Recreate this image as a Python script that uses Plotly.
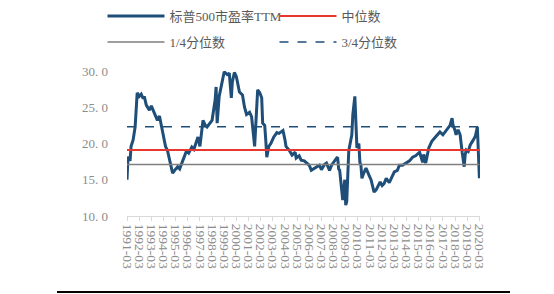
import plotly.graph_objects as go

# S&P 500 trailing PE (TTM)
dates = [
    "1991-03", "1991-04", "1991-06", "1991-07", "1991-09", "1991-11", "1992-01", "1992-03",
    "1992-05", "1992-07", "1992-08", "1992-10", "1993-01", "1993-03", "1993-06", "1993-09",
    "1993-11", "1994-01", "1994-03", "1994-05", "1994-07", "1994-09", "1994-11", "1994-12",
    "1995-02", "1995-05", "1995-07", "1995-09", "1995-11", "1996-02", "1996-04", "1996-07",
    "1996-09", "1997-01", "1997-03", "1997-06", "1997-08", "1997-10", "1998-03", "1998-06",
    "1998-07", "1998-08", "1998-10", "1999-01", "1999-03", "1999-06", "1999-08", "1999-10",
    "1999-11", "2000-01", "2000-03", "2000-06", "2000-09", "2000-11", "2001-01", "2001-04",
    "2001-06", "2001-09", "2001-10", "2001-12", "2002-02", "2002-04", "2002-05", "2002-07",
    "2002-08", "2002-09", "2002-11", "2003-01", "2003-04", "2003-07", "2003-09", "2004-01",
    "2004-03", "2004-04", "2004-07", "2004-10", "2005-01", "2005-02", "2005-05", "2005-07",
    "2005-10", "2006-01", "2006-03", "2006-05", "2006-08", "2006-10", "2007-01", "2007-03",
    "2007-06", "2007-08", "2007-11", "2008-01", "2008-04", "2008-06", "2008-07", "2008-08",
    "2008-09", "2008-11", "2008-12", "2009-02", "2009-03", "2009-04", "2009-05", "2009-06",
    "2009-09", "2009-10", "2009-12", "2010-01", "2010-02", "2010-04", "2010-05", "2010-06",
    "2010-07", "2010-09", "2010-11", "2011-02", "2011-04", "2011-07", "2011-09", "2012-01",
    "2012-03", "2012-05", "2012-07", "2012-10", "2012-12", "2013-03", "2013-06", "2013-08",
    "2013-11", "2014-03", "2014-06", "2014-09", "2014-12", "2015-04", "2015-07", "2015-08",
    "2015-10", "2016-01", "2016-02", "2016-04", "2016-07", "2016-09", "2016-12", "2017-03",
    "2017-05", "2017-08", "2017-10", "2017-12", "2018-01", "2018-03", "2018-04", "2018-06",
    "2018-08", "2018-10", "2018-12", "2019-01", "2019-02", "2019-04", "2019-06", "2019-09",
    "2019-11", "2020-01", "2020-03",
]
pe_ttm = [
    15.0, 18.2, 17.6, 19.6, 20.5, 22.3, 27.0, 26.5,
    26.8, 26.2, 26.5, 25.3, 24.6, 25.2, 24.2, 23.2,
    23.8, 22.3, 21.0, 19.6, 19.0, 17.7, 16.8, 15.9,
    16.3, 16.8, 16.5, 17.3, 17.8, 19.1, 18.7, 19.5,
    19.2, 20.9, 19.6, 23.2, 22.6, 22.3, 23.2, 26.0,
    27.8, 22.8, 26.5, 28.8, 29.9, 29.5, 29.7, 26.3,
    28.5, 29.8, 29.2, 27.1, 26.7, 25.0, 24.0, 24.3,
    23.7, 19.6, 23.0, 27.4, 27.0, 26.3, 22.8, 22.5,
    20.5, 18.1, 19.6, 20.0, 20.9, 21.5, 21.4, 21.8,
    20.5, 19.6, 19.1, 18.4, 18.8, 18.0, 18.3, 17.7,
    17.6, 17.3, 17.0, 16.3, 16.6, 16.8, 17.0, 16.4,
    17.1, 17.3, 16.3, 17.0, 17.7, 18.0, 18.1, 16.5,
    16.3, 13.5, 12.2, 15.0, 11.5, 12.0, 17.0, 19.0,
    21.2, 24.0, 26.5, 23.5, 19.4, 20.0, 17.4, 17.0,
    15.2, 16.0, 16.6, 15.6, 15.0, 13.3, 13.6, 14.7,
    14.2, 14.5, 15.2, 14.6, 15.3, 16.1, 16.3, 17.0,
    17.0, 17.4, 17.6, 18.1, 18.3, 18.8, 17.4, 18.5,
    17.3, 19.4, 19.8, 20.3, 20.8, 21.1, 21.6, 21.2,
    21.6, 22.1, 22.5, 23.5, 22.5, 21.8, 21.2, 21.9,
    21.2, 18.8, 16.8, 18.5, 19.1, 18.9, 19.8, 20.5,
    21.0, 22.3, 15.2,
]
median_pe = 19.1
q1_pe = 17.1
q3_pe = 22.3

tick_years = list(range(1991, 2021))
tick_vals = [f"{y}-03-01" for y in tick_years]
tick_text = [f"{y}-03" for y in tick_years]
y_vals = [10, 15, 20, 25, 30]
y_text = ["10. 0", "15. 0", "20. 0", "25. 0", "30. 0"]

names = ["标普500市盈率TTM", "中位数", "1/4分位数", "3/4分位数"]

FONT = "Liberation Serif, Noto Sans CJK SC, serif"
x_span = [dates[0], dates[-1]]

fig = go.Figure()
fig.add_trace(go.Scatter(x=dates, y=pe_ttm, mode="lines", name=names[0],
                         line=dict(color="#1F4E79", width=3), legend="legend"))
fig.add_trace(go.Scatter(x=x_span, y=[median_pe, median_pe], mode="lines", name=names[1],
                         line=dict(color="#E8372F", width=2), legend="legend"))
fig.add_trace(go.Scatter(x=x_span, y=[q1_pe, q1_pe], mode="lines", name=names[2],
                         line=dict(color="#7F7F7F", width=1.5), legend="legend2"))
fig.add_trace(go.Scatter(x=x_span, y=[q3_pe, q3_pe], mode="lines", name=names[3],
                         line=dict(color="#1F4E79", width=1.5, dash="dash"), legend="legend2"))

legend_common = dict(orientation="h", xref="container", yref="container",
                     xanchor="left", yanchor="middle", entrywidthmode="pixels",
                     entrywidth=100, itemwidth=57,
                     font=dict(family=FONT, size=13, color="#595959"),
                     bgcolor="rgba(0,0,0,0)", tracegroupgap=0)

fig.update_layout(
    width=554, height=294,
    margin=dict(l=127, r=74, t=71, b=78, autoexpand=False),
    paper_bgcolor="white", plot_bgcolor="white",
    showlegend=True,
    legend=dict(x=0.185, y=1 - 16 / 294, **legend_common),
    legend2=dict(x=0.185, y=1 - 42 / 294, **legend_common),
    xaxis=dict(type="date", range=["1991-03-01", "2020-03-20"],
               tickvals=tick_vals, ticktext=tick_text, tickangle=90,
               tickfont=dict(family=FONT, size=13.5, color="#8C8C8C"),
               showgrid=False, zeroline=False,
               showline=True, linecolor="#D9D9D9", linewidth=1,
               ticks="outside", ticklen=4, tickcolor="#D9D9D9"),
    yaxis=dict(range=[10, 30], tickvals=y_vals, ticktext=y_text,
               tickfont=dict(family=FONT, size=13, color="#8C8C8C"),
               showgrid=False, zeroline=False, showline=False,
               ticklabelstandoff=18),
    shapes=[dict(type="line", xref="paper", yref="paper",
                 x0=-70 / 353, x1=383 / 353, y0=-76 / 145, y1=-76 / 145,
                 line=dict(color="black", width=2))],
)

fig.write_html("out.html")
